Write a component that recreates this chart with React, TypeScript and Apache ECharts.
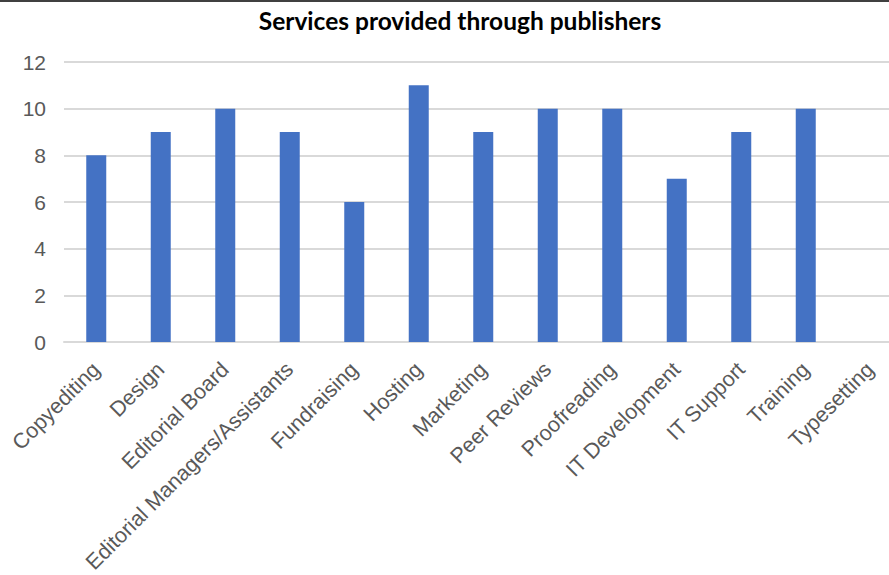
import React, { useEffect, useRef } from "react";
import * as echarts from "echarts";

const categories = [
  "Copyediting",
  "Design",
  "Editorial Board",
  "Editorial Managers/Assistants",
  "Fundraising",
  "Hosting",
  "Marketing",
  "Peer Reviews",
  "Proofreading",
  "IT Development",
  "IT Support",
  "Training",
  "Typesetting",
];
const counts = [8, 9, 10, 9, 6, 11, 9, 10, 10, 7, 9, 10, 0];
const chartTitle = "Services provided through publishers";

export default function App() {
  const ref = useRef<HTMLDivElement>(null);
  useEffect(() => {
    if (!ref.current) return;
    const chart = echarts.init(ref.current, undefined, { renderer: "svg" });
    chart.setOption({
      animation: false,
      backgroundColor: "#ffffff",
      title: {
        text: chartTitle,
        left: 455,
        textAlign: "center",
        top: 3,
        textStyle: {
          fontFamily: "Lato",
          fontWeight: "bold",
          fontSize: 24.5,
          color: "#000000",
        },
      },
      graphic: [
        {
          type: "line",
          shape: { x1: 0, y1: 1, x2: 889, y2: 1 },
          style: { stroke: "#404040", lineWidth: 2 },
        },
      ],
      grid: {
        left: 64,
        right: -13.5,
        top: 62,
        bottom: 233,
        containLabel: false,
        outerBoundsMode: "none",
      },
      xAxis: {
        type: "category",
        data: categories,
        axisLine: { show: true, lineStyle: { color: "#d9d9d9", width: 2 } },
        axisTick: { show: false },
        axisLabel: {
          rotate: 45,
          interval: 0,
          margin: 24,
          color: "#595959",
          fontFamily: "Liberation Sans",
          fontSize: 21.5,
        },
      },
      yAxis: {
        type: "value",
        min: 0,
        max: 12,
        interval: 2,
        axisLine: { show: false },
        axisTick: { show: false },
        splitLine: { lineStyle: { color: "#d9d9d9", width: 2 } },
        axisLabel: {
          color: "#595959",
          fontFamily: "Liberation Sans",
          fontSize: 21,
          margin: 18,
        },
      },
      series: [
        {
          type: "bar",
          data: counts,
          barWidth: 20,
          itemStyle: { color: "#4472C4" },
        },
      ],
    });
    return () => chart.dispose();
  }, []);
  return (
    <div
      ref={ref}
      style={{ position: "fixed", left: 0, top: 0, width: 889, height: 575 }}
    />
  );
}
